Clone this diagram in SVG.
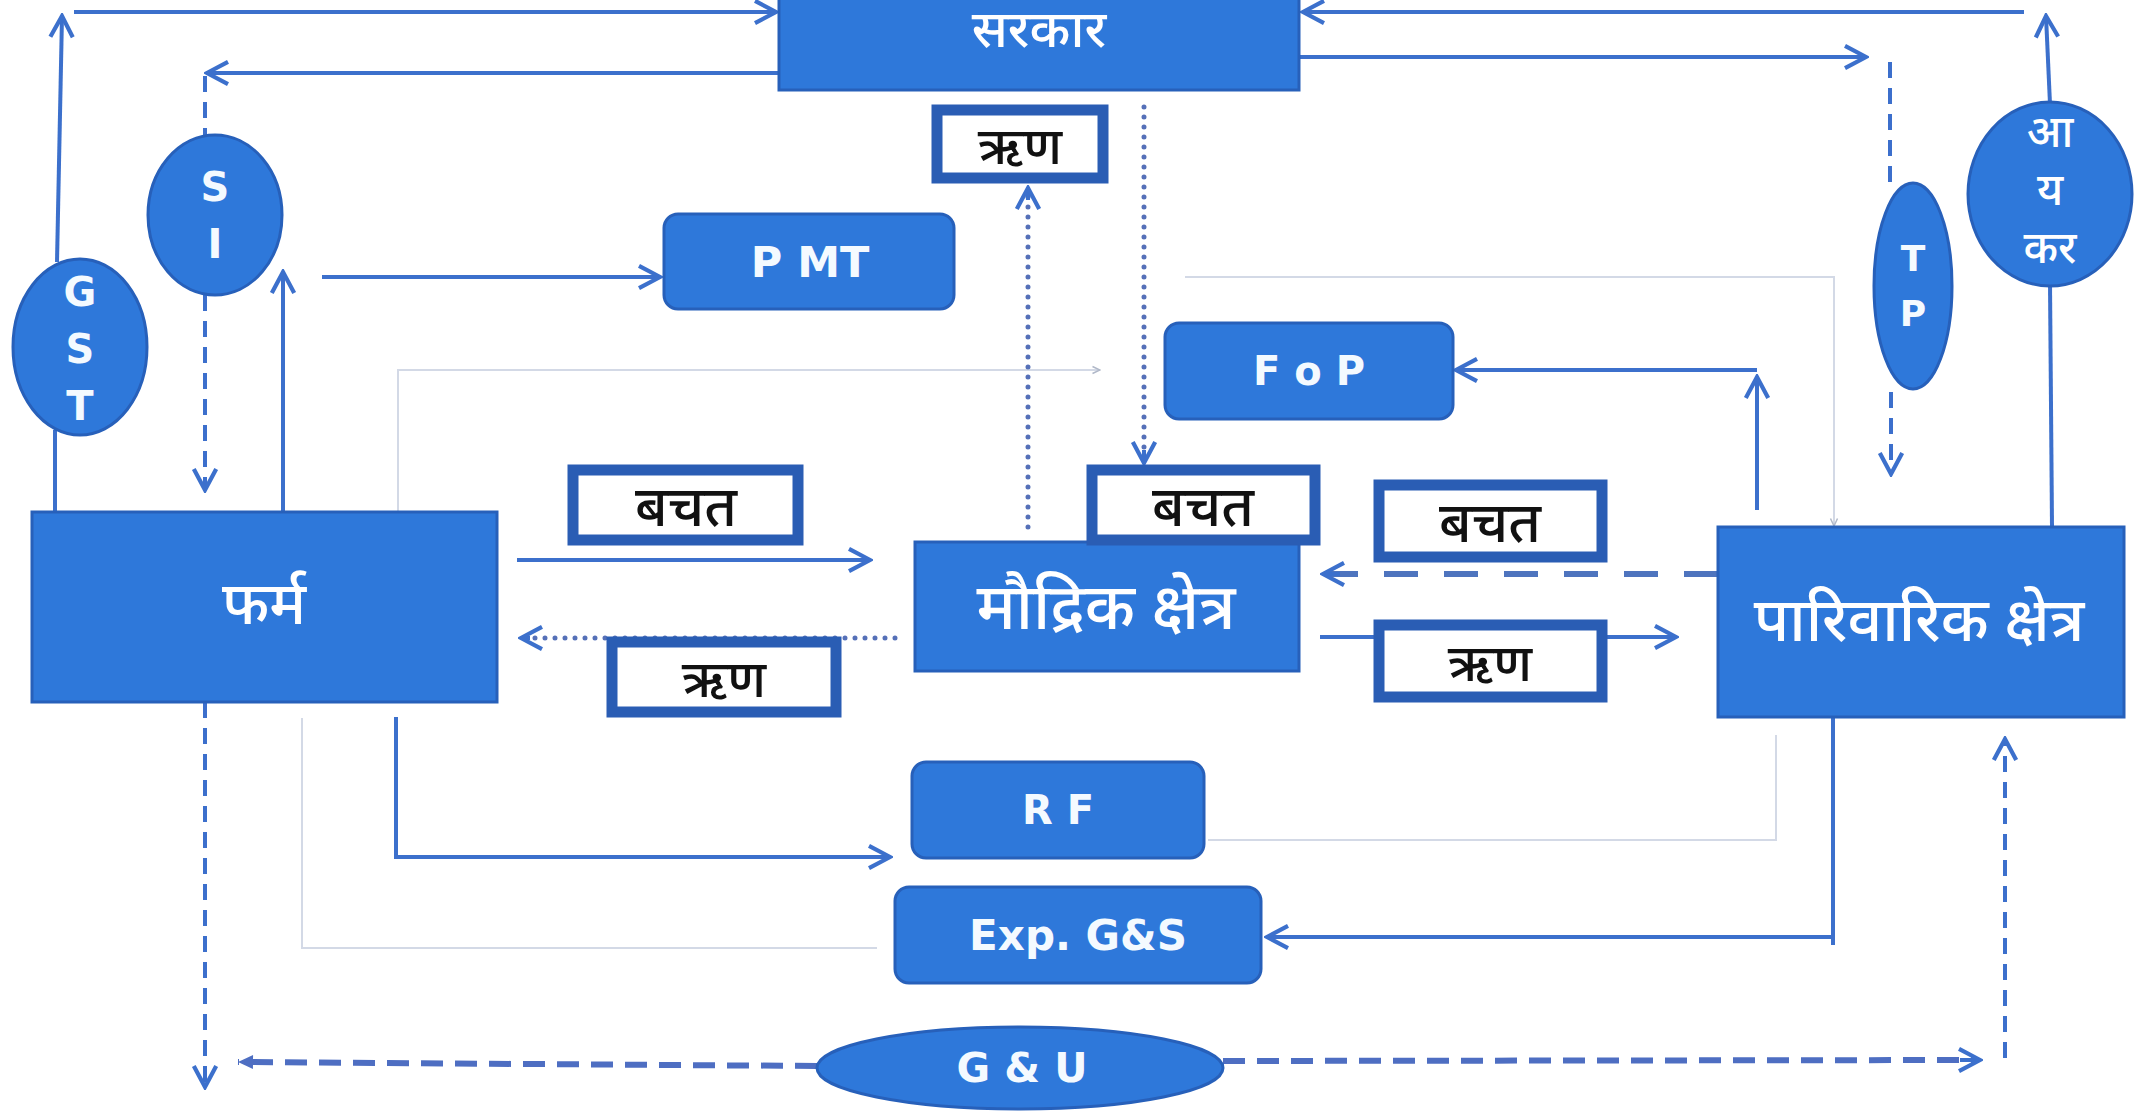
<svg xmlns="http://www.w3.org/2000/svg" width="2146" height="1119" viewBox="0 0 2146 1119">
<style>
.node{fill:#2E78DA;stroke:#2760BA;stroke-width:3}
.lbl{fill:#ffffff;stroke:#2A5DB4;stroke-width:11}
.wt{fill:#ffffff;font-family:"Noto Sans Devanagari","Lohit Devanagari","Noto Sans","DejaVu Sans",sans-serif;font-weight:500;text-anchor:middle;dominant-baseline:central}
.lt{fill:#F4FAFF;font-family:"DejaVu Sans","Open Sans",sans-serif;font-weight:700;text-anchor:middle;dominant-baseline:central}
.bt{fill:#111111;font-family:"Noto Sans Devanagari","Lohit Devanagari","Noto Sans","DejaVu Sans",sans-serif;font-weight:500;text-anchor:middle;dominant-baseline:central}
.c{fill:none;stroke:#3C70CC;stroke-width:4}
.dash{fill:none;stroke:#3C6FCC;stroke-width:4;stroke-dasharray:16 10}
.dot{fill:none;stroke:#5570B8;stroke-width:5;stroke-dasharray:0 10;stroke-linecap:round}
.thickdash{fill:none;stroke:#4E74BE;stroke-width:6;stroke-dasharray:34 26}
.gudash{fill:none;stroke:#4E6EC2;stroke-width:6;stroke-dasharray:22 12}
.faint{fill:none;stroke:#D3D9E6;stroke-width:2}
</style>
<defs>
<marker id="arr" viewBox="0 0 20 20" refX="18" refY="10" markerWidth="28" markerHeight="28" markerUnits="userSpaceOnUse" orient="auto">
<path d="M3,2 L18,10 L3,18" fill="none" stroke="#3C70CC" stroke-width="3"/>
</marker>
<marker id="arrfill" viewBox="0 0 20 20" refX="18" refY="10" markerWidth="20" markerHeight="20" markerUnits="userSpaceOnUse" orient="auto">
<path d="M3,3 L18,10 L3,17 Z" fill="#4E6EC2"/>
</marker>
<marker id="arrfaint" viewBox="0 0 20 20" refX="18" refY="10" markerWidth="10" markerHeight="10" markerUnits="userSpaceOnUse" orient="auto">
<path d="M3,3 L18,10 L3,17" fill="none" stroke="#B0B8C8" stroke-width="3"/>
</marker>
</defs>
<rect width="2146" height="1119" fill="#ffffff"/>
<g id="connectors">
<polyline class="faint" points="398,512 398,370 1100,370" marker-end="url(#arrfaint)"/>
<polyline class="faint" points="1185,277 1834,277 1834,526" marker-end="url(#arrfaint)"/>
<polyline class="faint" points="302,718 302,948 877,948"/>
<polyline class="faint" points="1208,840 1776,840 1776,735"/>
<line class="c" x1="55" y1="512" x2="55" y2="430"/>
<line class="c" x1="57" y1="262" x2="62" y2="16" marker-end="url(#arr)"/>
<line class="c" x1="74" y1="12" x2="776" y2="12" marker-end="url(#arr)"/>
<line class="c" x1="779" y1="73" x2="207" y2="73" marker-end="url(#arr)"/>
<line class="dash" x1="205" y1="76" x2="205" y2="136"/>
<line class="dash" x1="205" y1="295" x2="205" y2="490" marker-end="url(#arr)"/>
<line class="c" x1="283" y1="512" x2="283" y2="272" marker-end="url(#arr)"/>
<line class="c" x1="322" y1="277" x2="660" y2="277" marker-end="url(#arr)"/>
<line class="dot" x1="1028" y1="527" x2="1028" y2="192"/>
<line class="c" x1="1028" y1="200" x2="1028" y2="188" marker-end="url(#arr)"/>
<line class="dot" x1="1144" y1="107" x2="1144" y2="458"/>
<line class="c" x1="1144" y1="450" x2="1144" y2="463" marker-end="url(#arr)"/>
<line class="c" x1="1299" y1="57" x2="1866" y2="57" marker-end="url(#arr)"/>
<line class="dash" x1="1890" y1="62" x2="1890" y2="182"/>
<line class="dash" x1="1891" y1="392" x2="1891" y2="474" marker-end="url(#arr)"/>
<line class="c" x1="2052" y1="527" x2="2050" y2="284"/>
<line class="c" x1="2050" y1="104" x2="2046" y2="16" marker-end="url(#arr)"/>
<line class="c" x1="2024" y1="12" x2="1303" y2="12" marker-end="url(#arr)"/>
<line class="c" x1="1757" y1="510" x2="1757" y2="377" marker-end="url(#arr)"/>
<line class="c" x1="1757" y1="370" x2="1456" y2="370" marker-end="url(#arr)"/>
<line class="c" x1="517" y1="560" x2="870" y2="560" marker-end="url(#arr)"/>
<line class="dot" x1="895" y1="638" x2="530" y2="638"/>
<line class="c" x1="530" y1="638" x2="521" y2="638" marker-end="url(#arr)"/>
<line class="thickdash" x1="1718" y1="574" x2="1330" y2="574"/>
<line class="c" x1="1340" y1="574" x2="1323" y2="574" marker-end="url(#arr)"/>
<line class="c" x1="1320" y1="637" x2="1676" y2="637" marker-end="url(#arr)"/>
<line class="dash" x1="205" y1="702" x2="205" y2="1087" marker-end="url(#arr)"/>
<line class="gudash" x1="817" y1="1066" x2="238" y2="1062" marker-end="url(#arrfill)"/>
<line class="gudash" x1="1223" y1="1061" x2="1976" y2="1060"/>
<line class="c" x1="1960" y1="1060" x2="1980" y2="1060" marker-end="url(#arr)"/>
<line class="dash" x1="2005" y1="1058" x2="2005" y2="739" marker-end="url(#arr)"/>
<polyline class="c" points="396,717 396,857 890,857" marker-end="url(#arr)"/>
<polyline class="c" points="1833,717 1833,945"/>
<polyline class="c" points="1833,937 1267,937" marker-end="url(#arr)"/>
</g>
<g id="sarkar"><rect class="node" x="779" y="-2" width="520" height="92"/><text class="wt" x="1039" y="34" font-size="52">सरकार</text></g>
<g id="rin-top"><rect class="lbl" x="937" y="110" width="166" height="68"/><text class="bt" x="1020" y="151" font-size="52">ऋण</text></g>
<g id="si"><ellipse class="node" cx="215" cy="215" rx="67" ry="80"/><text class="lt" x="215" y="187" font-size="40">S</text><text class="lt" x="215" y="244" font-size="40">I</text></g>
<g id="gst"><ellipse class="node" cx="80" cy="347" rx="67" ry="88"/><text class="lt" x="80" y="292" font-size="40">G</text><text class="lt" x="80" y="349" font-size="40">S</text><text class="lt" x="80" y="406" font-size="40">T</text></g>
<g id="pmt"><rect class="node" x="664" y="214" width="290" height="95" rx="14"/><text class="lt" x="810" y="262" font-size="43">P MT</text></g>
<g id="fop"><rect class="node" x="1165" y="323" width="288" height="96" rx="14"/><text class="lt" x="1309" y="371" font-size="40">F o P</text></g>
<g id="tp"><ellipse class="node" cx="1913" cy="286" rx="39" ry="103"/><text class="lt" x="1913" y="258" font-size="36">T</text><text class="lt" x="1913" y="313" font-size="36">P</text></g>
<g id="aykar"><ellipse class="node" cx="2050" cy="194" rx="82" ry="92"/><text class="wt" x="2050" y="136" font-size="44">आ</text><text class="wt" x="2050" y="194" font-size="44">य</text><text class="wt" x="2050" y="252" font-size="44">कर</text></g>
<g id="farm"><rect class="node" x="32" y="512" width="465" height="190"/><text class="wt" x="264" y="609" font-size="60">फर्म</text></g>
<g id="bachat-left"><rect class="lbl" x="573" y="470" width="225" height="70"/><text class="bt" x="686" y="512" font-size="56">बचत</text></g>
<g id="rin-left"><rect class="lbl" x="612" y="642" width="224" height="70"/><text class="bt" x="724" y="684" font-size="52">ऋण</text></g>
<g id="maudrik"><rect class="node" x="915" y="542" width="384" height="129"/><text class="wt" x="1106" y="613" font-size="64">मौद्रिक क्षेत्र</text></g>
<g id="bachat-mid"><rect class="lbl" x="1092" y="470" width="223" height="70"/><text class="bt" x="1203" y="512" font-size="56">बचत</text></g>
<g id="bachat-right"><rect class="lbl" x="1379" y="485" width="223" height="72"/><text class="bt" x="1490" y="528" font-size="56">बचत</text></g>
<g id="rin-right"><rect class="lbl" x="1379" y="625" width="223" height="72"/><text class="bt" x="1490" y="668" font-size="52">ऋण</text></g>
<g id="parivarik"><rect class="node" x="1718" y="527" width="406" height="190"/><text class="wt" x="1919" y="626" font-size="61">पारिवारिक क्षेत्र</text></g>
<g id="rf"><rect class="node" x="912" y="762" width="292" height="96" rx="14"/><text class="lt" x="1058" y="810" font-size="40">R F</text></g>
<g id="exp"><rect class="node" x="895" y="887" width="366" height="96" rx="14"/><text class="lt" x="1078" y="935" font-size="42">Exp. G&amp;S</text></g>
<g id="gu"><ellipse class="node" cx="1020" cy="1068" rx="203" ry="41"/><text class="lt" x="1022" y="1068" font-size="41">G &amp; U</text></g>
</svg>
